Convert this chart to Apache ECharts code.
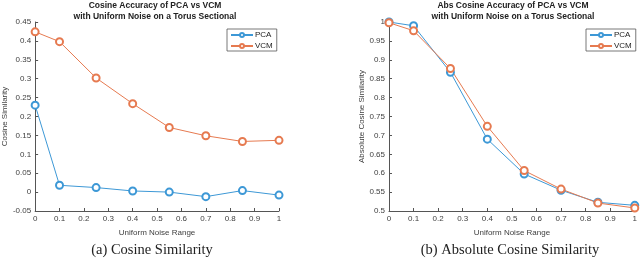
<!DOCTYPE html>
<html><head><meta charset="utf-8">
<script src="https://cdn.jsdelivr.net/npm/echarts@6/dist/echarts.min.js"></script>
<style>html,body{margin:0;padding:0;background:#fff}#c{width:640px;height:258px}</style>
</head><body><div id="c"></div>
<script>
const noise = [0, 0.1, 0.25, 0.4, 0.55, 0.7, 0.85, 1];
const pcaCos = [0.23, 0.018, 0.012, 0.003, 0.0, -0.012, 0.004, -0.008];
const vcmCos = [0.424, 0.398, 0.302, 0.234, 0.171, 0.149, 0.134, 0.137];
const pcaAbs = [1.0, 0.99, 0.867, 0.69, 0.598, 0.555, 0.523, 0.515];
const vcmAbs = [0.998, 0.977, 0.877, 0.724, 0.607, 0.558, 0.521, 0.508];
const titleA = 'Cosine Accuracy of PCA vs VCM\nwith Uniform Noise on a Torus Sectional';
const titleB = 'Abs Cosine Accuracy of PCA vs VCM\nwith Uniform Noise on a Torus Sectional';
const captionA = '(a) Cosine Similarity';
const captionB = '(b) Absolute Cosine Similarity';
const blue = '#3d98d6', orange = '#e67a50';
const F = 'Liberation Sans, Arial, sans-serif';
const pair = (xs, ys) => xs.map((x, i) => [x, ys[i]]);
const chart = echarts.init(document.getElementById('c'));
function xAx(gi) {
  return {type:'value', gridIndex:gi, min:0, max:1, interval:0.1,
    name:'Uniform Noise Range', nameLocation:'middle', nameGap:18,
    nameTextStyle:{fontFamily:F, fontSize:8, color:'#404040'},
    axisLine:{onZero:false, lineStyle:{color:'#555', width:1}},
    axisTick:{inside:true, length:3, lineStyle:{color:'#555'}},
    axisLabel:{fontFamily:F, fontSize:8, color:'#404040', margin:4},
    splitLine:{show:false}};
}
function yAx(gi, min, max, name, gap) {
  return {type:'value', gridIndex:gi, min:min, max:max, interval:0.05,
    name:name, nameLocation:'middle', nameGap:gap,
    nameTextStyle:{fontFamily:F, fontSize:8, color:'#404040'},
    axisLine:{show:true, onZero:false, lineStyle:{color:'#555', width:1}},
    axisTick:{show:true, inside:true, length:3, lineStyle:{color:'#555'}},
    axisLabel:{fontFamily:F, fontSize:8, color:'#404040', margin:4,
      formatter: v => String(+v.toFixed(2))},
    splitLine:{show:false}};
}
function ser(name, gi, xs, ys, color) {
  return {type:'line', name:name, xAxisIndex:gi, yAxisIndex:gi, data:pair(xs, ys),
    symbol:'emptyCircle', symbolSize:7, showAllSymbol:true,
    lineStyle:{color:color, width:1}, itemStyle:{color:color, borderWidth:0.9},
    animation:false};
}
function leg(left, top) {
  return {data:['PCA','VCM'], orient:'vertical', left:left, top:top,
    itemWidth:22, itemHeight:5, itemGap:3, padding:[2,4,1,3],
    borderColor:'#555', borderWidth:0.8, backgroundColor:'#fff',
    textStyle:{fontFamily:F, fontSize:8, color:'#222', padding:[0,0,0,-3]}};
}
chart.setOption({
  animation:false,
  title:[
    {text:titleA, left:155, top:0, padding:0, textAlign:'center',
      textStyle:{fontFamily:F, fontSize:8.5, fontWeight:'bold', color:'#222', lineHeight:11}},
    {text:titleB, left:513, top:0, padding:0, textAlign:'center',
      textStyle:{fontFamily:F, fontSize:8.5, fontWeight:'bold', color:'#222', lineHeight:11}},
    {text:captionA, left:152, top:243, padding:0, textAlign:'center',
      textStyle:{fontFamily:'Liberation Serif, serif', fontSize:14.5, fontWeight:'normal', color:'#222'}},
    {text:captionB, left:510, top:243, padding:0, textAlign:'center',
      textStyle:{fontFamily:'Liberation Serif, serif', fontSize:14.5, fontWeight:'normal', color:'#222'}}
  ],
  legend:[leg(227, 29), leg(586, 29)],
  grid:[
    {left:31, right:361, top:22, bottom:47},
    {left:389, right:3, top:22, bottom:47}
  ],
  xAxis:[xAx(0), xAx(1)],
  yAxis:[yAx(0, -0.05, 0.45, 'Cosine Similarity', 23), yAx(1, 0.5, 1, 'Absolute Cosine Similarity', 23)],
  series:[
    ser('PCA', 0, noise, pcaCos, blue),
    ser('VCM', 0, noise, vcmCos, orange),
    ser('PCA', 1, noise, pcaAbs, blue),
    ser('VCM', 1, noise, vcmAbs, orange)
  ]
});
</script></body></html>
